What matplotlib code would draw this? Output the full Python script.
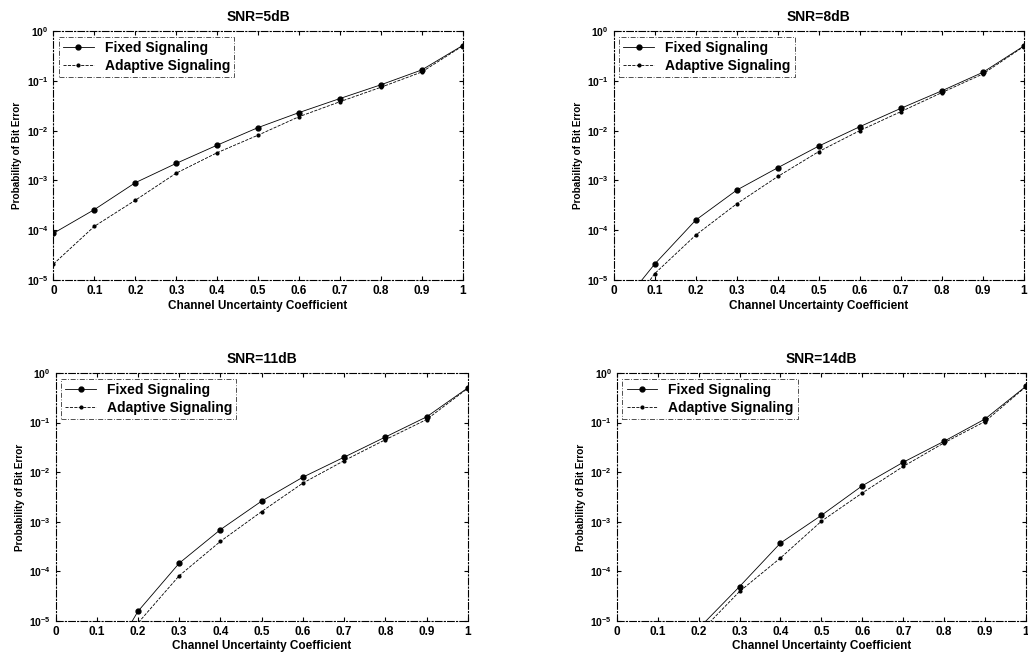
import numpy as np
import matplotlib
matplotlib.use("Agg")
import matplotlib.pyplot as plt

plt.rcParams['font.family'] = ['Liberation Sans', 'DejaVu Sans']
plt.rcParams['font.weight'] = 'bold'
plt.rcParams['mathtext.default'] = 'bf'

# channel uncertainty coefficient
x = [0, 0.1, 0.2, 0.3, 0.4, 0.5, 0.6, 0.7, 0.8, 0.9, 1.0]

titles = ["SNR=5dB", "SNR=8dB", "SNR=11dB", "SNR=14dB"]

# bit error probabilities (values below 1e-5 are off-axis)
fixed_5 = [8.7e-5, 2.6e-4, 9.0e-4, 2.2e-3, 5.1e-3, 1.15e-2, 2.3e-2, 4.4e-2, 8.3e-2, 0.165, 0.51]
adapt_5 = [2.1e-5, 1.2e-4, 4.0e-4, 1.4e-3, 3.6e-3, 8.1e-3, 1.9e-2, 3.8e-2, 7.4e-2, 0.15, 0.50]
fixed_8 = [2.0e-6, 2.1e-5, 1.6e-4, 6.4e-4, 1.8e-3, 4.9e-3, 1.2e-2, 2.8e-2, 6.3e-2, 0.148, 0.50]
adapt_8 = [1.0e-6, 1.35e-5, 8.0e-5, 3.4e-4, 1.2e-3, 3.8e-3, 1.0e-2, 2.4e-2, 5.8e-2, 0.137, 0.49]
fixed_11 = [1.0e-7, 6.0e-7, 1.55e-5, 1.45e-4, 6.9e-4, 2.6e-3, 7.9e-3, 2.0e-2, 5.1e-2, 0.13, 0.50]
adapt_11 = [5.0e-8, 4.0e-7, 9.0e-6, 8.1e-5, 4.0e-4, 1.6e-3, 6.0e-3, 1.7e-2, 4.5e-2, 0.115, 0.49]
fixed_14 = [1.0e-8, 1.0e-7, 7.0e-6, 4.9e-5, 3.7e-4, 1.34e-3, 5.3e-3, 1.58e-2, 4.2e-2, 0.118, 0.54]
adapt_14 = [5.0e-9, 5.0e-8, 5.5e-6, 3.9e-5, 1.85e-4, 1.02e-3, 3.8e-3, 1.3e-2, 3.9e-2, 0.105, 0.53]

fixed = [fixed_5, fixed_8, fixed_11, fixed_14]
adapt = [adapt_5, adapt_8, adapt_11, adapt_14]

xticks = [0, 0.1, 0.2, 0.3, 0.4, 0.5, 0.6, 0.7, 0.8, 0.9, 1]
xticklabels = ["0", "0.1", "0.2", "0.3", "0.4", "0.5", "0.6", "0.7", "0.8", "0.9", "1"]

fig = plt.figure(figsize=(10.28, 6.59), dpi=100)
positions = [
    [0.052, 0.575, 0.398, 0.378],
    [0.597, 0.575, 0.399, 0.378],
    [0.054, 0.058, 0.401, 0.376],
    [0.600, 0.058, 0.398, 0.376],
]

for i in range(4):
    ax = fig.add_axes(positions[i])
    ax.semilogy(x, fixed[i], '-', color='black', marker='o', markersize=3.5, linewidth=0.6,
                label='Fixed Signaling')
    ax.semilogy(x, adapt[i], '--', color='black', marker='.', markersize=4, linewidth=0.6,
                label='Adaptive Signaling')
    ax.set_xlim(0, 1)
    ax.set_ylim(1e-5, 1)
    ax.set_xticks(xticks)
    ax.set_xticklabels(xticklabels)
    ax.minorticks_off()
    ax.tick_params(axis='x', labelsize=8.5)
    ax.tick_params(axis='y', labelsize=7.5)
    ax.tick_params(length=3, direction='in', top=True, right=True)
    for sp in ax.spines.values():
        sp.set_linestyle((0, (6, 2, 1, 2)))
        sp.set_linewidth(0.8)
    ax.set_title(titles[i], fontsize=10, fontweight='bold', pad=7)
    ax.set_xlabel("Channel Uncertainty Coefficient", fontsize=8.5, fontweight='bold', labelpad=2)
    ax.set_ylabel("Probability of Bit Error", fontsize=7.2, fontweight='bold', labelpad=3)
    leg = ax.legend(loc='upper left', fontsize=10, frameon=True, fancybox=False,
                    borderaxespad=0.4, handlelength=2.2, borderpad=0.3, labelspacing=0.3)
    leg.get_frame().set_edgecolor('black')
    leg.get_frame().set_linewidth(0.6)
    leg.get_frame().set_linestyle((0, (6, 2, 1, 2)))

fig.savefig("out.png", dpi=100)
